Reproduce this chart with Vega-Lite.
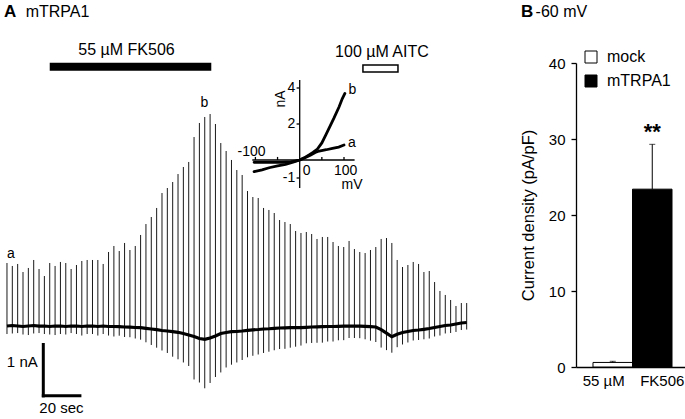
{
  "$schema": "https://vega.github.io/schema/vega-lite/v6.json",
  "padding": 0,
  "background": "white",
  "bounds": "flush",
  "spacing": 102,
  "config": {
    "view": {"stroke": null},
    "font": "Liberation Sans",
    "text": {"font": "Liberation Sans", "color": "black"},
    "axis": {"labelFont": "Liberation Sans", "titleFont": "Liberation Sans"},
    "legend": {"labelFont": "Liberation Sans"}
  },
  "datasets": {
    "spikes": [
      {"t": 0, "top": 1.148, "base": -0.019, "bot": -0.167},
      {"t": 2.7, "top": 1.093, "base": -0.009, "bot": -0.157},
      {"t": 5.4, "top": 1.130, "base": -0.019, "bot": -0.149},
      {"t": 8.1, "top": 0.981, "base": -0.028, "bot": -0.176},
      {"t": 10.8, "top": 1.056, "base": -0.019, "bot": -0.186},
      {"t": 13.5, "top": 1.204, "base": -0.009, "bot": -0.157},
      {"t": 16.2, "top": 1.037, "base": -0.019, "bot": -0.149},
      {"t": 18.9, "top": 0.907, "base": -0.019, "bot": -0.167},
      {"t": 21.6, "top": 1.148, "base": -0.028, "bot": -0.176},
      {"t": 24.3, "top": 1.093, "base": -0.019, "bot": -0.186},
      {"t": 27.0, "top": 1.167, "base": -0.019, "bot": -0.167},
      {"t": 29.7, "top": 1.148, "base": -0.028, "bot": -0.176},
      {"t": 32.4, "top": 1.037, "base": -0.019, "bot": -0.149},
      {"t": 35.1, "top": 1.111, "base": -0.019, "bot": -0.167},
      {"t": 37.8, "top": 1.185, "base": -0.028, "bot": -0.195},
      {"t": 40.5, "top": 1.204, "base": -0.019, "bot": -0.167},
      {"t": 43.2, "top": 1.204, "base": -0.019, "bot": -0.167},
      {"t": 45.9, "top": 1.204, "base": -0.028, "bot": -0.195},
      {"t": 48.6, "top": 1.130, "base": -0.019, "bot": -0.167},
      {"t": 51.3, "top": 1.352, "base": -0.028, "bot": -0.195},
      {"t": 54.0, "top": 1.463, "base": -0.028, "bot": -0.213},
      {"t": 56.7, "top": 1.370, "base": -0.031, "bot": -0.198},
      {"t": 59.4, "top": 1.519, "base": -0.037, "bot": -0.222},
      {"t": 62.1, "top": 1.389, "base": -0.041, "bot": -0.226},
      {"t": 64.8, "top": 1.463, "base": -0.046, "bot": -0.250},
      {"t": 67.5, "top": 1.667, "base": -0.050, "bot": -0.272},
      {"t": 70.2, "top": 1.870, "base": -0.061, "bot": -0.320},
      {"t": 72.9, "top": 2.000, "base": -0.074, "bot": -0.370},
      {"t": 75.6, "top": 2.167, "base": -0.087, "bot": -0.420},
      {"t": 78.3, "top": 2.444, "base": -0.102, "bot": -0.472},
      {"t": 81.0, "top": 2.537, "base": -0.111, "bot": -0.518},
      {"t": 83.7, "top": 2.648, "base": -0.124, "bot": -0.587},
      {"t": 86.4, "top": 2.796, "base": -0.135, "bot": -0.635},
      {"t": 89.1, "top": 2.926, "base": -0.157, "bot": -0.694},
      {"t": 91.8, "top": 3.019, "base": -0.185, "bot": -0.759},
      {"t": 94.5, "top": 3.481, "base": -0.213, "bot": -1.009},
      {"t": 97.2, "top": 3.741, "base": -0.250, "bot": -1.065},
      {"t": 99.9, "top": 3.852, "base": -0.265, "bot": -1.172},
      {"t": 102.6, "top": 3.907, "base": -0.241, "bot": -1.074},
      {"t": 105.3, "top": 3.722, "base": -0.204, "bot": -0.963},
      {"t": 108.0, "top": 3.370, "base": -0.157, "bot": -0.879},
      {"t": 110.7, "top": 3.222, "base": -0.139, "bot": -0.787},
      {"t": 113.4, "top": 3.056, "base": -0.124, "bot": -0.735},
      {"t": 116.1, "top": 2.870, "base": -0.120, "bot": -0.694},
      {"t": 118.8, "top": 2.778, "base": -0.111, "bot": -0.648},
      {"t": 121.5, "top": 2.481, "base": -0.098, "bot": -0.598},
      {"t": 124.2, "top": 2.370, "base": -0.089, "bot": -0.570},
      {"t": 126.9, "top": 2.352, "base": -0.083, "bot": -0.546},
      {"t": 129.6, "top": 2.167, "base": -0.074, "bot": -0.518},
      {"t": 132.3, "top": 2.130, "base": -0.069, "bot": -0.495},
      {"t": 135.0, "top": 2.074, "base": -0.061, "bot": -0.468},
      {"t": 137.7, "top": 1.944, "base": -0.056, "bot": -0.445},
      {"t": 140.4, "top": 1.907, "base": -0.052, "bot": -0.441},
      {"t": 143.1, "top": 1.870, "base": -0.050, "bot": -0.420},
      {"t": 145.8, "top": 1.741, "base": -0.050, "bot": -0.402},
      {"t": 148.5, "top": 1.704, "base": -0.048, "bot": -0.381},
      {"t": 151.2, "top": 1.722, "base": -0.043, "bot": -0.339},
      {"t": 153.9, "top": 1.685, "base": -0.037, "bot": -0.333},
      {"t": 156.6, "top": 1.593, "base": -0.033, "bot": -0.329},
      {"t": 159.3, "top": 1.630, "base": -0.031, "bot": -0.327},
      {"t": 162.0, "top": 1.630, "base": -0.028, "bot": -0.306},
      {"t": 164.7, "top": 1.537, "base": -0.028, "bot": -0.306},
      {"t": 167.4, "top": 1.463, "base": -0.024, "bot": -0.283},
      {"t": 170.1, "top": 1.444, "base": -0.022, "bot": -0.281},
      {"t": 172.8, "top": 1.556, "base": -0.019, "bot": -0.241},
      {"t": 175.5, "top": 1.407, "base": -0.019, "bot": -0.241},
      {"t": 178.2, "top": 1.352, "base": -0.022, "bot": -0.244},
      {"t": 180.9, "top": 1.333, "base": -0.024, "bot": -0.265},
      {"t": 183.6, "top": 1.389, "base": -0.031, "bot": -0.290},
      {"t": 186.3, "top": 1.444, "base": -0.037, "bot": -0.315},
      {"t": 189.0, "top": 1.593, "base": -0.085, "bot": -0.418},
      {"t": 191.7, "top": 1.611, "base": -0.150, "bot": -0.465},
      {"t": 194.4, "top": 1.519, "base": -0.217, "bot": -0.513},
      {"t": 197.1, "top": 1.204, "base": -0.170, "bot": -0.411},
      {"t": 199.8, "top": 1.074, "base": -0.139, "bot": -0.361},
      {"t": 202.5, "top": 1.111, "base": -0.120, "bot": -0.324},
      {"t": 205.2, "top": 1.167, "base": -0.102, "bot": -0.287},
      {"t": 207.9, "top": 1.130, "base": -0.093, "bot": -0.278},
      {"t": 210.6, "top": 0.981, "base": -0.080, "bot": -0.265},
      {"t": 213.3, "top": 1.000, "base": -0.065, "bot": -0.250},
      {"t": 216.0, "top": 0.796, "base": -0.046, "bot": -0.213},
      {"t": 218.7, "top": 0.630, "base": -0.028, "bot": -0.195},
      {"t": 221.4, "top": 0.556, "base": -0.009, "bot": -0.157},
      {"t": 224.1, "top": 0.463, "base": 0.000, "bot": -0.148},
      {"t": 226.8, "top": 0.352, "base": 0.019, "bot": -0.129},
      {"t": 229.5, "top": 0.407, "base": 0.037, "bot": -0.093},
      {"t": 232.2, "top": 0.407, "base": 0.046, "bot": -0.084}
    ],
    "iv": [
      {"curve": "b", "mv": -103, "na": -0.65},
      {"curve": "b", "mv": -85, "na": -0.55},
      {"curve": "b", "mv": -69, "na": -0.43},
      {"curve": "b", "mv": -50, "na": -0.33},
      {"curve": "b", "mv": -32, "na": -0.24},
      {"curve": "b", "mv": -15, "na": -0.12},
      {"curve": "b", "mv": 0, "na": 0},
      {"curve": "b", "mv": 10, "na": 0.12},
      {"curve": "b", "mv": 21, "na": 0.28},
      {"curve": "b", "mv": 30, "na": 0.42},
      {"curve": "b", "mv": 40, "na": 0.61},
      {"curve": "b", "mv": 50, "na": 0.95},
      {"curve": "b", "mv": 59, "na": 1.39},
      {"curve": "b", "mv": 68, "na": 1.85},
      {"curve": "b", "mv": 77, "na": 2.31},
      {"curve": "b", "mv": 89, "na": 2.96},
      {"curve": "b", "mv": 96, "na": 3.4},
      {"curve": "b", "mv": 102, "na": 3.7},
      {"curve": "a", "mv": -103, "na": -0.13},
      {"curve": "a", "mv": -70, "na": -0.13},
      {"curve": "a", "mv": -40, "na": -0.13},
      {"curve": "a", "mv": -20, "na": -0.1},
      {"curve": "a", "mv": -9, "na": -0.05},
      {"curve": "a", "mv": 0, "na": 0},
      {"curve": "a", "mv": 12, "na": 0.13},
      {"curve": "a", "mv": 25, "na": 0.28},
      {"curve": "a", "mv": 35, "na": 0.42},
      {"curve": "a", "mv": 44, "na": 0.5},
      {"curve": "a", "mv": 60, "na": 0.57},
      {"curve": "a", "mv": 74, "na": 0.65},
      {"curve": "a", "mv": 88, "na": 0.72},
      {"curve": "a", "mv": 100, "na": 0.83}
    ]
  },
  "hconcat": [
    {
      "width": 470,
      "height": 419,
      "resolve": {"scale": {"x": "independent", "y": "independent"}},
      "layer": [
        {
          "layer": [
            {
              "data": {"name": "spikes"},
              "mark": {"type": "rule", "color": "#1a1a1a", "strokeWidth": 1},
              "encoding": {
                "x": {"field": "t", "type": "quantitative", "axis": null, "scale": {"domain": [-1.5, 235.9], "nice": false, "zero": false}},
                "y": {"field": "top", "type": "quantitative", "axis": null, "scale": {"domain": [-1.7407, 6.0185], "nice": false, "zero": false}},
                "y2": {"field": "bot"}
              }
            },
            {
              "data": {"name": "spikes"},
              "mark": {"type": "line", "color": "black", "strokeWidth": 3.2},
              "encoding": {
                "x": {"field": "t", "type": "quantitative", "axis": null},
                "y": {"field": "base", "type": "quantitative", "axis": null}
              }
            },
            {
              "data": {"values": [{"t": 21.6, "t2": 103.2, "v": 4.857, "v2": 4.709}]},
              "mark": {"type": "rect", "color": "black"},
              "encoding": {
                "x": {"field": "t", "type": "quantitative", "axis": null},
                "x2": {"field": "t2"},
                "y": {"field": "v", "type": "quantitative", "axis": null},
                "y2": {"field": "v2"}
              }
            },
            {
              "data": {"values": [{"t": 179.8, "t2": 197.5, "v": 4.815, "v2": 4.685}]},
              "mark": {"type": "rect", "fill": "white", "stroke": "black", "strokeWidth": 1.5},
              "encoding": {
                "x": {"field": "t", "type": "quantitative", "axis": null},
                "x2": {"field": "t2"},
                "y": {"field": "v", "type": "quantitative", "axis": null},
                "y2": {"field": "v2"}
              }
            },
            {
              "data": {"values": [
                {"t": 18.35, "t2": 18.35, "v": -0.333, "v2": -1.34},
                {"t": 17.6, "t2": 37.6, "v": -1.31, "v2": -1.31}
              ]},
              "mark": {"type": "rule", "color": "black", "strokeWidth": 3},
              "encoding": {
                "x": {"field": "t", "type": "quantitative", "axis": null},
                "x2": {"field": "t2"},
                "y": {"field": "v", "type": "quantitative", "axis": null},
                "y2": {"field": "v2"}
              }
            },
            {
              "data": {"values": [
                {"t": -1.5, "v": 5.709, "label": "A"},
                {"t": 259.6, "v": 5.709, "label": "B"}
              ]},
              "mark": {"type": "text", "fontSize": 17, "fontWeight": "bold", "align": "left", "baseline": "alphabetic"},
              "encoding": {
                "x": {"field": "t", "type": "quantitative", "axis": null},
                "y": {"field": "v", "type": "quantitative", "axis": null},
                "text": {"field": "label"}
              }
            },
            {
              "data": {"values": [
                {"t": 9.46, "v": 5.709, "label": "mTRPA1"},
                {"t": 267.0, "v": 5.709, "label": "-60 mV"}
              ]},
              "mark": {"type": "text", "fontSize": 16, "align": "left", "baseline": "alphabetic"},
              "encoding": {
                "x": {"field": "t", "type": "quantitative", "axis": null},
                "y": {"field": "v", "type": "quantitative", "axis": null},
                "text": {"field": "label"}
              }
            },
            {
              "data": {"values": [
                {"t": 60.4, "v": 5.0, "label": "55 µM FK506"},
                {"t": 189.4, "v": 4.963, "label": "100 µM AITC"}
              ]},
              "mark": {"type": "text", "fontSize": 16, "align": "center", "baseline": "alphabetic"},
              "encoding": {
                "x": {"field": "t", "type": "quantitative", "axis": null},
                "y": {"field": "v", "type": "quantitative", "axis": null},
                "text": {"field": "label"}
              }
            },
            {
              "data": {"values": [
                {"t": 2.04, "v": 1.24, "label": "a"},
                {"t": 99.7, "v": 4.043, "label": "b"}
              ]},
              "mark": {"type": "text", "fontSize": 14, "align": "center", "baseline": "alphabetic"},
              "encoding": {
                "x": {"field": "t", "type": "quantitative", "axis": null},
                "y": {"field": "v", "type": "quantitative", "axis": null},
                "text": {"field": "label"}
              }
            },
            {
              "data": {"values": [
                {"t": 7.74, "v": -0.772, "label": "1 nA"},
                {"t": 27.5, "v": -1.637, "label": "20 sec"}
              ]},
              "mark": {"type": "text", "fontSize": 15, "align": "center", "baseline": "alphabetic"},
              "encoding": {
                "x": {"field": "t", "type": "quantitative", "axis": null},
                "y": {"field": "v", "type": "quantitative", "axis": null},
                "text": {"field": "label"}
              }
            }
          ]
        },
        {
          "layer": [
            {
              "data": {"values": [
                {"mv": -107, "mv2": 123.9, "na": 0, "na2": 0},
                {"mv": 0, "mv2": 0, "na": -1.55, "na2": 4.44},
                {"mv": -7, "mv2": 0, "na": 4, "na2": 4},
                {"mv": -7, "mv2": 0, "na": 2, "na2": 2},
                {"mv": -7, "mv2": 0, "na": -1, "na2": -1},
                {"mv": -100, "mv2": -100, "na": 0, "na2": 0.17},
                {"mv": -50, "mv2": -50, "na": 0, "na2": 0.17},
                {"mv": 50, "mv2": 50, "na": 0, "na2": 0.17},
                {"mv": 100, "mv2": 100, "na": 0, "na2": 0.17}
              ]},
              "mark": {"type": "rule", "color": "black", "strokeWidth": 1.3},
              "encoding": {
                "x": {"field": "mv", "type": "quantitative", "axis": null, "scale": {"domain": [-100, 100], "range": [251.4, 340], "nice": false, "zero": false}},
                "x2": {"field": "mv2"},
                "y": {"field": "na", "type": "quantitative", "axis": null, "scale": {"domain": [-1, 4], "range": [178, 88], "nice": false, "zero": false}},
                "y2": {"field": "na2"}
              }
            },
            {
              "data": {"name": "iv"},
              "mark": {"type": "line", "color": "black", "strokeWidth": 2.8, "strokeCap": "round"},
              "encoding": {
                "x": {"field": "mv", "type": "quantitative", "axis": null},
                "y": {"field": "na", "type": "quantitative", "axis": null},
                "detail": {"field": "curve"}
              }
            },
            {
              "data": {"values": [
                {"mv": 15.8, "na": -0.61, "label": "0"},
                {"mv": 103.8, "na": -0.59, "label": "100"},
                {"mv": 118, "na": -1.39, "label": "mV"},
                {"mv": -108.8, "na": 0.44, "label": "-100"},
                {"mv": 118.7, "na": 3.89, "label": "b"},
                {"mv": 118, "na": 0.94, "label": "a"}
              ]},
              "mark": {"type": "text", "fontSize": 14, "align": "center", "baseline": "middle"},
              "encoding": {
                "x": {"field": "mv", "type": "quantitative", "axis": null},
                "y": {"field": "na", "type": "quantitative", "axis": null},
                "text": {"field": "label"}
              }
            },
            {
              "data": {"values": [
                {"mv": -10, "na": 4, "label": "4"},
                {"mv": -10, "na": 2, "label": "2"},
                {"mv": -10, "na": -1, "label": "-1"}
              ]},
              "mark": {"type": "text", "fontSize": 14, "align": "right", "baseline": "middle"},
              "encoding": {
                "x": {"field": "mv", "type": "quantitative", "axis": null},
                "y": {"field": "na", "type": "quantitative", "axis": null},
                "text": {"field": "label"}
              }
            },
            {
              "data": {"values": [{"mv": -42, "na": 3.39, "label": "nA"}]},
              "mark": {"type": "text", "fontSize": 14, "align": "center", "baseline": "middle", "angle": 270},
              "encoding": {
                "x": {"field": "mv", "type": "quantitative", "axis": null},
                "y": {"field": "na", "type": "quantitative", "axis": null},
                "text": {"field": "label"}
              }
            }
          ]
        }
      ]
    },
    {
      "width": 113,
      "height": 367,
      "data": {"values": [
        {"group": "mock", "value": 0.6, "err": 0.75, "sig": ""},
        {"group": "mTRPA1", "value": 23.4, "err": 29.3, "sig": "**"}
      ]},
      "encoding": {
        "x": {
          "field": "group", "type": "nominal", "sort": ["mock", "mTRPA1"],
          "scale": {"paddingInner": 0, "paddingOuter": 0.43},
          "axis": {
            "title": null, "ticks": false, "tickSize": 0, "labelAngle": 0,
            "labelFontSize": 15, "labelColor": "black", "labelPadding": 6,
            "domainColor": "black", "domainWidth": 1.3,
            "labelExpr": "datum.value == 'mock' ? '55 µM' : 'FK506'",
            "labelOffset": {"condition": {"test": "datum.value == 'mock'", "value": -9}, "value": 10}
          }
        }
      },
      "layer": [
        {
          "mark": {"type": "bar", "stroke": "black", "strokeWidth": 1},
          "encoding": {
            "y": {
              "field": "value", "type": "quantitative",
              "scale": {"domain": [0, 40], "range": [367, 63], "nice": false},
              "axis": {
                "values": [0, 10, 20, 30, 40], "grid": false,
                "title": "Current density (pA/pF)", "titleFontSize": 16.5, "titleFontWeight": "normal",
                "titleColor": "black", "titlePadding": 12,
                "labelFontSize": 15, "labelColor": "black", "labelPadding": 6,
                "tickSize": 5, "tickColor": "black", "tickWidth": 1.3,
                "domainColor": "black", "domainWidth": 1.3
              }
            },
            "fill": {
              "field": "group", "type": "nominal",
              "scale": {"domain": ["mock", "mTRPA1"], "range": ["white", "black"]},
              "legend": {
                "title": null, "orient": "none", "legendX": 579, "legendY": 49,
                "symbolType": "square", "symbolSize": 144, "symbolStrokeColor": "black",
                "symbolStrokeWidth": 1, "labelFontSize": 16, "labelColor": "black",
                "labelOffset": 8, "rowPadding": 8, "padding": 0
              }
            }
          }
        },
        {
          "mark": {"type": "rule", "color": "black", "strokeWidth": 1},
          "encoding": {
            "y": {"field": "value", "type": "quantitative"},
            "y2": {"field": "err"}
          }
        },
        {
          "mark": {"type": "tick", "orient": "horizontal", "size": 6, "thickness": 1, "color": "black"},
          "encoding": {
            "y": {"field": "err", "type": "quantitative"}
          }
        },
        {
          "mark": {"type": "text", "fontSize": 22, "fontWeight": "bold", "baseline": "alphabetic", "dy": -5},
          "encoding": {
            "y": {"field": "err", "type": "quantitative"},
            "text": {"field": "sig"}
          }
        }
      ]
    }
  ]
}
